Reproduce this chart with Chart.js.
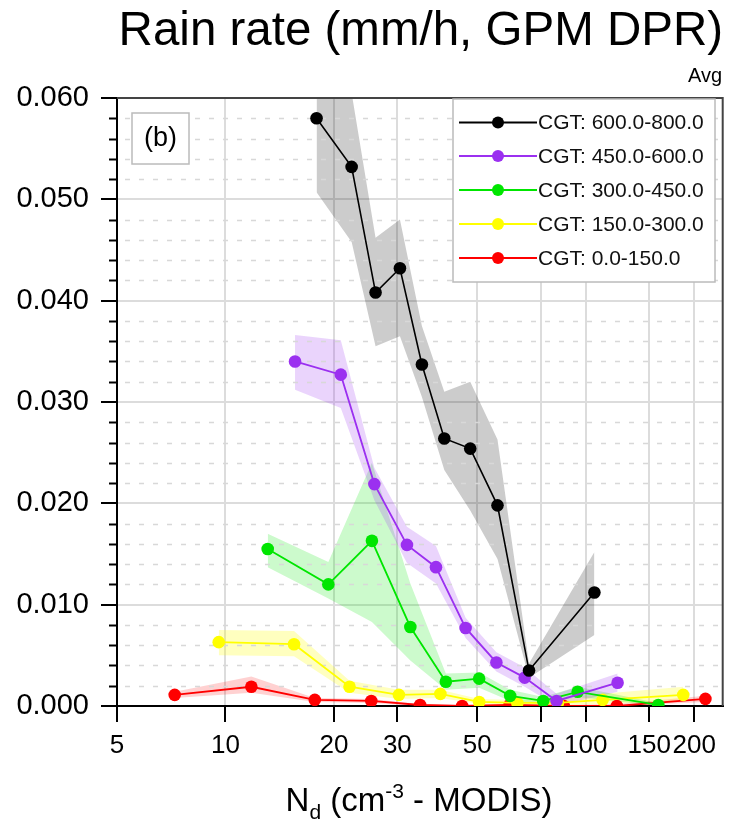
<!DOCTYPE html>
<html><head><meta charset="utf-8">
<script src="https://cdn.jsdelivr.net/npm/chart.js@4.4.0/dist/chart.umd.min.js"></script>
<style>html,body{margin:0;padding:0;background:#fff}</style>
</head><body>
<canvas id="c" width="729" height="822" style="width:729px;height:822px;display:block"></canvas>
<script>
// ---- data ----
const xTicks = [5, 10, 20, 30, 50, 75, 100, 150, 200];
const yTicks = [0, 0.01, 0.02, 0.03, 0.04, 0.05, 0.06];
const labels = ['CGT: 600.0-800.0', 'CGT: 450.0-600.0', 'CGT: 300.0-450.0', 'CGT: 150.0-300.0', 'CGT: 0.0-150.0'];

const blackX  = [17.9, 22.4, 26.1, 30.5, 35.1, 40.5, 47.8, 56.9, 69.6, 105.7];
const blackY  = [0.0580, 0.0532, 0.0408, 0.0432, 0.0337, 0.0264, 0.0254, 0.0198, 0.0035, 0.0112];
const blackHi = [0.0680, 0.0605, 0.0462, 0.0480, 0.0375, 0.0310, 0.0320, 0.0263, 0.0042, 0.0152];
const blackLo = [0.0507, 0.0458, 0.0355, 0.0365, 0.0305, 0.0233, 0.0193, 0.0145, 0.0028, 0.0070];

const purpleX  = [15.6, 20.9, 25.9, 31.9, 38.4, 46.4, 56.5, 67.7, 83.0, 122.6];
const purpleY  = [0.0340, 0.0327, 0.0219, 0.0159, 0.0137, 0.0077, 0.0043, 0.0028, 0.0005, 0.0023];
const purpleHi = [0.0366, 0.0361, 0.0235, 0.0177, 0.0158, 0.0087, 0.0053, 0.0038, 0.0012, 0.0032];
const purpleLo = [0.0312, 0.0294, 0.0203, 0.0141, 0.0121, 0.0067, 0.0034, 0.0019, 0.0000, 0.0014];

const greenX  = [13.1, 19.3, 25.5, 32.6, 40.9, 50.6, 61.7, 76.2, 95.0, 159.0];
const greenY  = [0.0155, 0.0120, 0.0163, 0.0078, 0.0024, 0.0027, 0.0010, 0.0005, 0.0014, 0.0001];
const greenHi = [0.0170, 0.0142, 0.0240, 0.0121, 0.0032, 0.0033, 0.0016, 0.0009, 0.0019, 0.0003];
const greenLo = [0.0137, 0.0106, 0.0083, 0.0045, 0.0016, 0.0018, 0.0005, 0.0002, 0.0009, 0.0000];

const yellowX  = [9.58, 15.5, 22.1, 30.3, 39.5, 50.6, 64.6, 83.7, 111.4, 186.5];
const yellowY  = [0.0063, 0.0061, 0.0019, 0.0011, 0.0012, 0.0004, 0.0003, 0.0003, 0.0006, 0.0011];
const yellowHi = [0.0075, 0.0074, 0.0025, 0.0016, 0.0016, 0.0007, 0.0006, 0.0006, 0.0012, 0.0019];
const yellowLo = [0.0050, 0.0049, 0.0013, 0.0007, 0.0008, 0.0002, 0.0001, 0.0001, 0.0002, 0.0005];

const redX  = [7.23, 11.8, 17.7, 25.4, 34.7, 45.4, 61.5, 86.9, 122.0, 214.9];
const redY  = [0.0011, 0.0019, 0.0006, 0.0005, 0.0001, 0.0000, 0.0001, 0.0000, 0.0000, 0.0007];
const redHi = [0.0014, 0.0029, 0.0008, 0.0007, 0.0002, 0.0001, 0.0002, 0.0001, 0.0002, 0.0010];
const redLo = [0.0008, 0.0013, 0.0004, 0.0003, 0.0000, 0.0000, 0.0000, 0.0000, 0.0000, 0.0004];

// ---- styles ----
const FONT = "'Liberation Sans', Arial, Helvetica, sans-serif";
const series = [
  {label: labels[0], x: blackX,  y: blackY,  hi: blackHi,  lo: blackLo,  color: '#000000', band: 'rgba(0,0,0,0.2)',        w: 1.6},
  {label: labels[1], x: purpleX, y: purpleY, hi: purpleHi, lo: purpleLo, color: '#9b30f0', band: 'rgba(160,60,240,0.22)',  w: 1.8},
  {label: labels[2], x: greenX,  y: greenY,  hi: greenHi,  lo: greenLo,  color: '#00e600', band: 'rgba(0,230,0,0.2)',      w: 1.8},
  {label: labels[3], x: yellowX, y: yellowY, hi: yellowHi, lo: yellowLo, color: '#ffff00', band: 'rgba(255,255,0,0.25)',   w: 1.8},
  {label: labels[4], x: redX,    y: redY,    hi: redHi,    lo: redLo,    color: '#ff0000', band: 'rgba(255,0,0,0.18)',     w: 1.8}
];

const datasets = [];
series.forEach(s => {
  datasets.push({
    label: s.label,
    data: s.x.map((v, i) => ({x: v, y: s.y[i]})),
    borderColor: s.color, backgroundColor: s.color,
    pointBackgroundColor: s.color, pointBorderColor: s.color,
    pointRadius: 6.3, pointBorderWidth: 0, borderWidth: s.w, fill: false, tension: 0
  });
});
series.forEach(s => {
  const hiIdx = datasets.length;
  datasets.push({label: '_hi', data: s.x.map((v, i) => ({x: v, y: s.hi[i]})),
    borderColor: 'rgba(0,0,0,0)', borderWidth: 0.01, pointRadius: 0, fill: false, tension: 0});
  datasets.push({label: '_lo', data: s.x.map((v, i) => ({x: v, y: s.lo[i]})),
    borderColor: 'rgba(0,0,0,0)', borderWidth: 0.01, pointRadius: 0, tension: 0,
    fill: {target: hiIdx}, backgroundColor: s.band});
});

const deco = {
  id: 'deco',
  beforeDatasetsDraw(chart) {
    const {ctx, chartArea: a, scales: {y}} = chart;
    ctx.save();
    for (let k = 1; k < 30; k++) {
      if (k % 5 === 0) continue;
      const py = Math.round(y.getPixelForValue(k * 0.002)) + 0.5;
      ctx.setLineDash([5, 9]);
      ctx.strokeStyle = '#d8d8d8';
      ctx.lineWidth = 1.5;
      ctx.beginPath(); ctx.moveTo(a.left + 8, py); ctx.lineTo(a.right, py); ctx.stroke();
      ctx.setLineDash([]);
      ctx.strokeStyle = '#000';
      ctx.lineWidth = 2;
      ctx.beginPath(); ctx.moveTo(a.left - 8, py); ctx.lineTo(a.left, py); ctx.stroke();
    }
    ctx.restore();
  },
  afterDraw(chart) {
    const {ctx, chartArea: a} = chart;
    ctx.save();
    // frame top/right
    ctx.strokeStyle = '#444'; ctx.lineWidth = 2;
    ctx.beginPath(); ctx.moveTo(a.left, a.top); ctx.lineTo(a.right, a.top); ctx.lineTo(a.right, a.bottom); ctx.stroke();
    // title
    ctx.fillStyle = '#000';
    ctx.textAlign = 'right'; ctx.textBaseline = 'alphabetic';
    ctx.font = `47.5px ${FONT}`;
    ctx.fillText('Rain rate (mm/h, GPM DPR)', 723, 45);
    ctx.font = `20px ${FONT}`;
    ctx.fillText('Avg', 722, 82);
    // (b) box
    ctx.strokeStyle = '#bbb'; ctx.lineWidth = 1.5;
    ctx.fillStyle = '#fff';
    ctx.fillRect(132, 113, 57, 51);
    ctx.strokeRect(132, 113, 57, 51);
    ctx.fillStyle = '#000';
    ctx.textAlign = 'center'; ctx.textBaseline = 'middle';
    ctx.font = `27px ${FONT}`;
    ctx.fillText('(b)', 160.5, 139);
    // legend
    ctx.fillStyle = '#fff';
    ctx.fillRect(453, 99, 262, 183);
    ctx.strokeStyle = '#bbb';
    ctx.strokeRect(453, 99, 262, 183);
    const rows = [122.5, 156, 190, 224, 258];
    ctx.font = `21px ${FONT}`;
    ctx.textAlign = 'left';
    series.forEach((s, i) => {
      const yy = rows[i];
      ctx.strokeStyle = s.color; ctx.lineWidth = 2;
      ctx.beginPath(); ctx.moveTo(459, yy); ctx.lineTo(537, yy); ctx.stroke();
      ctx.fillStyle = s.color;
      ctx.beginPath(); ctx.arc(498, yy, 6, 0, Math.PI * 2); ctx.fill();
      ctx.fillStyle = '#111';
      ctx.fillText(s.label, 538, yy + 1);
    });
    // x-axis title
    const big = `33px ${FONT}`, small = `21px ${FONT}`;
    const parts = [
      {t: 'N', f: big, dy: 0}, {t: 'd', f: small, dy: 8}, {t: ' (cm', f: big, dy: 0},
      {t: '-3', f: small, dy: -13}, {t: ' - MODIS)', f: big, dy: 0}
    ];
    let tot = 0;
    parts.forEach(p => { ctx.font = p.f; p.w = ctx.measureText(p.t).width; tot += p.w; });
    let xx = 419 - tot / 2;
    ctx.textBaseline = 'alphabetic'; ctx.fillStyle = '#000';
    parts.forEach(p => { ctx.font = p.f; ctx.fillText(p.t, xx, 811 + p.dy); xx += p.w; });
    ctx.restore();
  }
};

new Chart(document.getElementById('c'), {
  type: 'line',
  data: {datasets},
  options: {
    responsive: false, animation: false, events: [],
    devicePixelRatio: 1,
    layout: {padding: {top: 98, right: 2, left: 0, bottom: 0}},
    plugins: {legend: {display: false}, tooltip: {enabled: false}, title: {display: false},
      filler: {drawTime: 'beforeDatasetsDraw'}},
    scales: {
      x: {
        type: 'logarithmic', min: 5, max: 240,
        afterBuildTicks: s => { s.ticks = xTicks.map(v => ({value: v})); },
        afterFit: s => { s.height = 116; },
        ticks: {autoSkip: false, maxRotation: 0, color: '#000', padding: 8,
          font: {family: FONT, size: 26}, callback: v => String(v)},
        grid: {color: '#dcdcdc', lineWidth: 2, tickLength: 16, tickColor: '#000', tickWidth: 2},
        border: {color: '#000', width: 2}
      },
      y: {
        min: 0, max: 0.06,
        afterBuildTicks: s => { s.ticks = yTicks.map(v => ({value: v})); },
        afterFit: s => { s.width = 117; },
        ticks: {color: '#000', padding: 12, font: {family: FONT, size: 29},
          callback: v => Number(v).toFixed(3)},
        grid: {color: '#dcdcdc', lineWidth: 2, tickLength: 16, tickColor: '#000', tickWidth: 2},
        border: {color: '#000', width: 2}
      }
    }
  },
  plugins: [deco]
});
</script>
</body></html>
